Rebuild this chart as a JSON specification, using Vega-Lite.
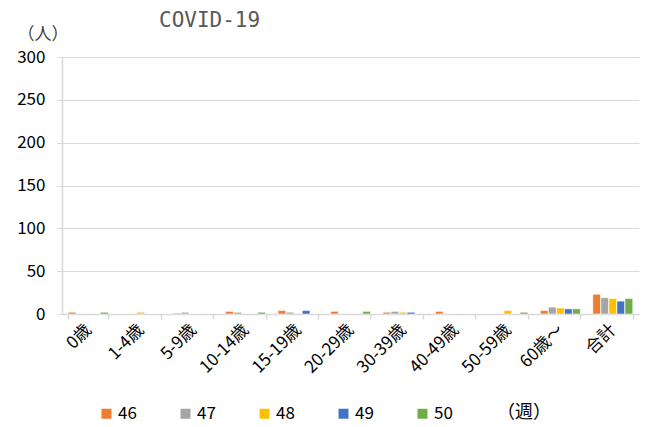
{
  "$schema": "https://vega.github.io/schema/vega-lite/v6.json",
  "autosize": {"type": "none"},
  "padding": {"left": 62, "top": 57, "right": 7, "bottom": 113},
  "width": 577,
  "height": 257,
  "background": "white",
  "config": {"view": {"stroke": null}},
  "title": {
    "text": "COVID-19",
    "anchor": "start",
    "frame": "group",
    "dx": 97,
    "offset": -6,
    "font": "DejaVu Sans Mono",
    "fontSize": 21,
    "fontWeight": "normal",
    "color": "#595959"
  },
  "data": {
    "values": [
      {"age": "0歳", "week": "46", "n": 2},
      {"age": "0歳", "week": "50", "n": 2},
      {"age": "1-4歳", "week": "48", "n": 2},
      {"age": "5-9歳", "week": "46", "n": 1},
      {"age": "5-9歳", "week": "47", "n": 2},
      {"age": "10-14歳", "week": "46", "n": 3},
      {"age": "10-14歳", "week": "47", "n": 2},
      {"age": "10-14歳", "week": "50", "n": 2},
      {"age": "15-19歳", "week": "46", "n": 4},
      {"age": "15-19歳", "week": "47", "n": 2},
      {"age": "15-19歳", "week": "49", "n": 4},
      {"age": "20-29歳", "week": "46", "n": 3},
      {"age": "20-29歳", "week": "50", "n": 3},
      {"age": "30-39歳", "week": "46", "n": 2},
      {"age": "30-39歳", "week": "47", "n": 3},
      {"age": "30-39歳", "week": "48", "n": 2},
      {"age": "30-39歳", "week": "49", "n": 2},
      {"age": "40-49歳", "week": "46", "n": 3},
      {"age": "50-59歳", "week": "48", "n": 4},
      {"age": "50-59歳", "week": "50", "n": 2},
      {"age": "60歳～", "week": "46", "n": 4},
      {"age": "60歳～", "week": "47", "n": 8},
      {"age": "60歳～", "week": "48", "n": 7},
      {"age": "60歳～", "week": "49", "n": 6},
      {"age": "60歳～", "week": "50", "n": 6},
      {"age": "合計", "week": "46", "n": 23},
      {"age": "合計", "week": "47", "n": 19},
      {"age": "合計", "week": "48", "n": 18},
      {"age": "合計", "week": "49", "n": 15},
      {"age": "合計", "week": "50", "n": 18}
    ]
  },
  "mark": {"type": "bar", "stroke": "white", "strokeWidth": 0.5},
  "encoding": {
    "x": {
      "field": "age",
      "type": "nominal",
      "sort": ["0歳", "1-4歳", "5-9歳", "10-14歳", "15-19歳", "20-29歳", "30-39歳", "40-49歳", "50-59歳", "60歳～", "合計"],
      "scale": {"paddingInner": 0.24, "paddingOuter": 0.12},
      "axis": {
        "title": null,
        "labelAngle": -45,
        "labelAlign": "right",
        "labelBaseline": "middle",
        "labelFont": "Noto Sans CJK JP",
        "labelFontSize": 17,
        "labelColor": "#000000",
        "labelPadding": 8,
        "domainColor": "#D9D9D9",
        "domainWidth": 1.5,
        "tickColor": "#D9D9D9",
        "tickWidth": 1.5,
        "tickSize": 5,
        "tickBand": "extent",
        "grid": false
      }
    },
    "xOffset": {
      "field": "week",
      "type": "nominal",
      "scale": {"paddingInner": 0.05, "paddingOuter": 0}
    },
    "y": {
      "field": "n",
      "type": "quantitative",
      "scale": {"domain": [0, 300]},
      "axis": {
        "values": [0, 50, 100, 150, 200, 250, 300],
        "title": "（人）",
        "titleAngle": 0,
        "titleAlign": "left",
        "titleBaseline": "middle",
        "titleX": -45,
        "titleY": -23,
        "titleFont": "Noto Sans CJK JP",
        "titleFontSize": 17,
        "titleFontWeight": "normal",
        "titleColor": "#404040",
        "labelFont": "Noto Sans CJK JP",
        "labelFontSize": 17,
        "labelColor": "#000000",
        "labelPadding": 12,
        "domainColor": "#D9D9D9",
        "domainWidth": 1.5,
        "tickColor": "#D9D9D9",
        "tickSize": 5,
        "grid": true,
        "gridColor": "#D9D9D9",
        "gridWidth": 1.2
      }
    },
    "color": {
      "field": "week",
      "type": "nominal",
      "scale": {
        "domain": ["46", "47", "48", "49", "50"],
        "range": ["#ED7D31", "#A5A5A5", "#FFC000", "#4472C4", "#70AD47"]
      },
      "legend": {
        "title": "（週）",
        "titleOrient": "right",
        "titleFont": "Noto Sans CJK JP",
        "titleFontSize": 18,
        "titleFontWeight": "normal",
        "titleColor": "#000000",
        "titlePadding": 44,
        "orient": "none",
        "legendX": 36,
        "legendY": 348,
        "direction": "horizontal",
        "symbolType": "square",
        "symbolSize": 100,
        "symbolStrokeWidth": 0,
        "labelFont": "Noto Sans CJK JP",
        "labelFontSize": 17,
        "labelColor": "#000000",
        "labelOffset": 3,
        "columnPadding": 40
      }
    }
  }
}
